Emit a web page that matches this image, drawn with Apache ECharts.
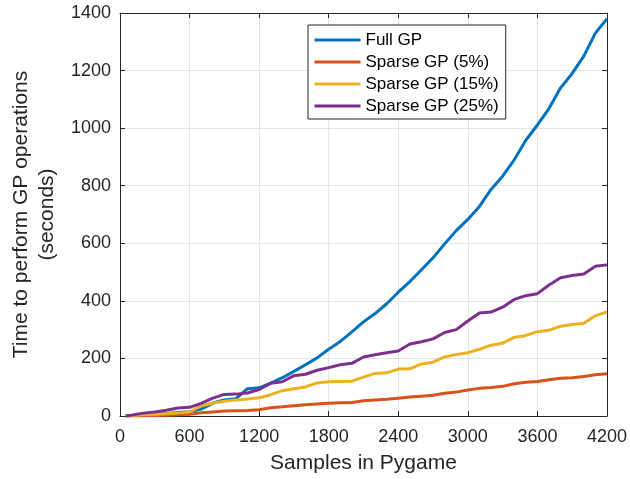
<!DOCTYPE html>
<html>
<head>
<meta charset="utf-8">
<script src="https://cdn.jsdelivr.net/npm/echarts@6/dist/echarts.min.js"></script>
<style>html,body{margin:0;padding:0;background:#fff;}#c{width:630px;height:479px;}</style>
</head>
<body>
<div id="c"></div>
<script>
const samples = [50,100,200,300,400,500,600,700,800,900,1000,1100,1200,1300,1400,1500,1600,1700,1800,1900,2000,2100,2200,2300,2400,2500,2600,2700,2800,2900,3000,3100,3200,3300,3400,3500,3600,3700,3800,3900,4000,4100,4200];
const fullGP = [0,2,4,6,9,12,15,24,45,56,60,95,98,114,133,155,178,202,232,259,292,327,356,390,430,467,508,550,598,644,683,728,787,833,890,958,1011,1068,1140,1190,1250,1330,1380];
const sparse5 = [0,0,1,2,3,4,6,11,14,17,18,19,22,29,32,36,39,42,44,46,47,53,56,58,62,66,69,72,79,83,90,96,99,103,112,117,120,126,131,133,137,143,147];
const sparse15 = [0,2,4,6,8,10,14,35,45,51,56,59,63,74,88,95,101,115,119,120,121,135,148,150,163,164,181,187,205,214,220,232,246,253,273,280,293,298,312,318,322,348,362];
const sparse25 = [0,3,10,14,20,28,30,44,62,75,76,80,92,114,119,140,145,159,168,178,183,205,213,220,226,250,258,268,290,300,330,358,361,378,405,418,425,455,480,488,493,520,525];
const seriesNames = ['Full GP','Sparse GP (5%)','Sparse GP (15%)','Sparse GP (25%)'];
const seriesColors = ['#0072BD','#D95319','#EDB120','#7E2F8E'];
const xTicks = [0,600,1200,1800,2400,3000,3600,4200];
const yTicks = [0,200,400,600,800,1000,1200,1400];

const FONT = '"Liberation Sans", Arial, Helvetica, sans-serif';
const TXT = '#262626';
const pairs = vals => samples.map((x,i)=>[x, vals[i]]);
const allVals = [fullGP, sparse5, sparse15, sparse25];
const plain = v => String(v);

const chart = echarts.init(document.getElementById('c'), null, {renderer:'canvas'});
const baseX = {
  type:'value', min:xTicks[0], max:xTicks[xTicks.length-1], interval:600
};
const baseY = {
  type:'value', min:yTicks[0], max:yTicks[yTicks.length-1], interval:200
};
chart.setOption({
  animation:false,
  backgroundColor:'#ffffff',
  textStyle:{fontFamily:FONT},
  grid:{left:110, right:20, top:13, bottom:63, containLabel:false},
  legend:{
    left:308, top:25, orient:'vertical',
    padding:[5,7,3,5], itemGap:2, itemWidth:46, itemHeight:14,
    backgroundColor:'#ffffff', borderColor:TXT, borderWidth:1, borderRadius:0,
    textStyle:{fontFamily:FONT, fontSize:17, color:'#000', lineHeight:20},
    itemStyle:{opacity:0},
    lineStyle:{width:3},
    data:seriesNames
  },
  xAxis:[
    Object.assign({}, baseX, {
      position:'bottom',
      name:'Samples in Pygame', nameLocation:'middle', nameGap:37,
      nameTextStyle:{fontFamily:FONT, fontSize:21, color:TXT},
      axisLine:{show:true, onZero:false, lineStyle:{color:TXT, width:1}},
      axisTick:{show:true, inside:true, length:5, lineStyle:{color:TXT}},
      axisLabel:{fontFamily:FONT, fontSize:18, color:TXT, margin:12, formatter:plain},
      splitLine:{show:true, lineStyle:{color:'#e5e5e5', width:1}}
    }),
    Object.assign({}, baseX, {
      position:'top',
      axisLine:{show:true, onZero:false, lineStyle:{color:TXT, width:1}},
      axisTick:{show:true, inside:true, length:5, lineStyle:{color:TXT}},
      axisLabel:{show:false}, splitLine:{show:false}
    })
  ],
  yAxis:[
    Object.assign({}, baseY, {
      position:'left',
      name:'Time to perform GP operations\n(seconds)', nameLocation:'middle', nameGap:60, nameRotate:90,
      nameTextStyle:{fontFamily:FONT, fontSize:21, color:TXT, lineHeight:26, align:'center'},
      axisLine:{show:true, onZero:false, lineStyle:{color:TXT, width:1}},
      axisTick:{show:true, inside:true, length:5, lineStyle:{color:TXT}},
      axisLabel:{fontFamily:FONT, fontSize:18, color:TXT, margin:9, formatter:plain},
      splitLine:{show:true, lineStyle:{color:'#e5e5e5', width:1}}
    }),
    Object.assign({}, baseY, {
      position:'right',
      axisLine:{show:true, onZero:false, lineStyle:{color:TXT, width:1}},
      axisTick:{show:true, inside:true, length:5, lineStyle:{color:TXT}},
      axisLabel:{show:false}, splitLine:{show:false}
    })
  ],
  series: seriesNames.map((n,i)=>({
    name:n, type:'line', xAxisIndex:0, yAxisIndex:0,
    data:pairs(allVals[i]), showSymbol:false, symbol:'none',
    color:seriesColors[i],
    lineStyle:{color:seriesColors[i], width:3, join:'round'},
    z:2+i
  }))
});
</script>
</body>
</html>
